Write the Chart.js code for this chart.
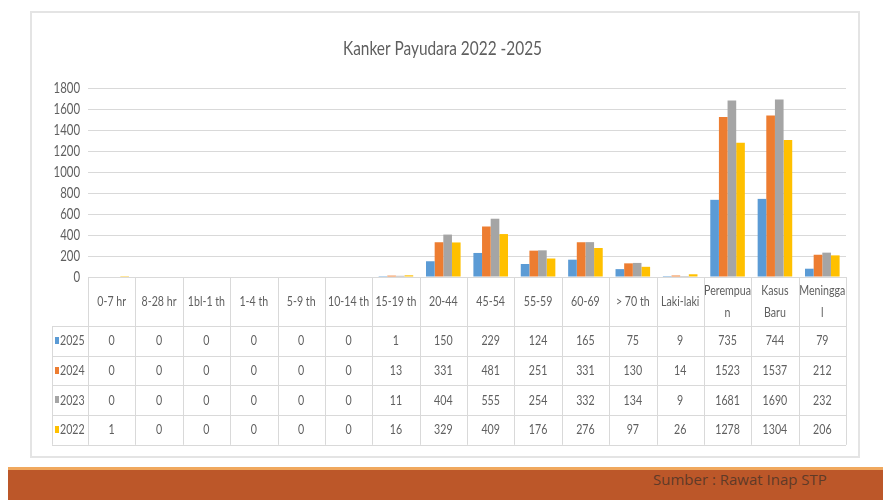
<!DOCTYPE html>
<html>
<head>
<meta charset="utf-8">
<script src="https://cdn.jsdelivr.net/npm/chart.js@4.4.1/dist/chart.umd.min.js"></script>
<style>
  html, body { margin: 0; padding: 0; background: #fff; }
  #wrap { position: relative; width: 883px; height: 500px; overflow: hidden; }
  #frame { position: absolute; left: 30px; top: 11px; width: 826px; height: 443px; border: 2px solid #e4e4e4; }
  #stripe { position: absolute; left: 8px; top: 467px; width: 875px; height: 3px; background: #F0A85E; }
  #band { position: absolute; left: 8px; top: 470px; width: 875px; height: 30px; background: #BC5729; }
  #src { position: absolute; left: 653px; top: 469px; font: 15px 'Open Sans', sans-serif; color: #5f3a28; }
  canvas { position: absolute; left: 0; top: 0; }
</style>
</head>
<body>
<div id="wrap">
  <div id="frame"></div>
  <div id="stripe"></div>
  <div id="band"></div>
  <div id="src">Sumber : Rawat Inap STP</div>
  <canvas id="c" width="883" height="500"></canvas>
</div>
<script>
const chartTitle = "Kanker Payudara 2022 -2025";
const categories = [["0-7 hr"], ["8-28 hr"], ["1bl-1 th"], ["1-4 th"], ["5-9 th"], ["10-14 th"], ["15-19 th"], ["20-44"], ["45-54"], ["55-59"], ["60-69"], ["> 70 th"], ["Laki-laki"], ["Perempua", "n"], ["Kasus", "Baru"], ["Meningga", "l"]];
const seriesNames = ["2025", "2024", "2023", "2022"];
const values2025 = [0, 0, 0, 0, 0, 0, 1, 150, 229, 124, 165, 75, 9, 735, 744, 79];
const values2024 = [0, 0, 0, 0, 0, 0, 13, 331, 481, 251, 331, 130, 14, 1523, 1537, 212];
const values2023 = [0, 0, 0, 0, 0, 0, 11, 404, 555, 254, 332, 134, 9, 1681, 1690, 232];
const values2022 = [1, 0, 0, 0, 0, 0, 16, 329, 409, 176, 276, 97, 26, 1278, 1304, 206];
const seriesColors = ["#5B9BD5", "#ED7D31", "#A5A5A5", "#FFC000"];
const yTicks = [0, 200, 400, 600, 800, 1000, 1200, 1400, 1600, 1800];

const FONT = "Lato, 'Open Sans', sans-serif";
const SX = 0.76;
const TXT = "#5f5f5f";
const allValues = [values2025, values2024, values2023, values2022];

function condText(ctx, text, x, y, align, sx) {
  ctx.save();
  ctx.translate(x, y);
  ctx.scale(sx, 1);
  ctx.textAlign = align;
  ctx.fillText(text, 0, 0);
  ctx.restore();
}

const tablePlugin = {
  id: 'dataTable',
  afterDraw(chart) {
    const ctx = chart.ctx;
    const xs = chart.scales.x;
    const ys = chart.scales.y;
    const n = categories.length;
    const left = xs.left, right = xs.right;
    const colW = (right - left) / n;
    const top = chart.chartArea.bottom;
    const headerBottom = top + 49;
    const rowH = 29.7;
    const legendLeft = 52;
    const bottom = headerBottom + rowH * 4;
    ctx.save();
    ctx.fillStyle = TXT;
    ctx.textBaseline = "middle";
    ctx.font = "20px " + FONT;
    const tw = ctx.measureText(chartTitle).width;
    condText(ctx, chartTitle, chart.width / 2 + 1, 49, "center", 199 / tw);
    ctx.font = "15px " + FONT;
    yTicks.forEach(v => condText(ctx, String(v), ys.left + 80, ys.getPixelForValue(v), "right", SX));

    ctx.strokeStyle = "#d9d9d9";
    ctx.lineWidth = 1;
    ctx.beginPath();
    for (let i = 0; i <= n; i++) {
      const x = Math.round(left + i * colW) + 0.5;
      ctx.moveTo(x, top); ctx.lineTo(x, bottom);
    }
    ctx.moveTo(legendLeft + 0.5, headerBottom); ctx.lineTo(legendLeft + 0.5, bottom);
    for (let r = 0; r <= 4; r++) {
      const y = Math.round(headerBottom + r * rowH) + 0.5;
      ctx.moveTo(legendLeft, y); ctx.lineTo(right, y);
    }
    ctx.stroke();

    ctx.fillStyle = TXT;
    ctx.font = "14px " + FONT;
    for (let i = 0; i < n; i++) {
      const cx = xs.getPixelForValue(i);
      const lines = categories[i];
      const lh = 22;
      const y0 = (top + headerBottom) / 2 - (lines.length - 1) * lh / 2;
      lines.forEach((t, k) => condText(ctx, t, cx, y0 + k * lh, "center", SX));
    }
    for (let r = 0; r < 4; r++) {
      const cy = headerBottom + r * rowH + rowH / 2;
      const vals = allValues[r];
      ctx.fillStyle = TXT;
      for (let i = 0; i < n; i++) {
        condText(ctx, String(vals[i]), xs.getPixelForValue(i), cy, "center", SX);
      }
      condText(ctx, seriesNames[r], 60, cy, "left", SX);
      ctx.fillStyle = seriesColors[r];
      ctx.fillRect(55, Math.round(cy - 4), 4, 7);
    }
    ctx.restore();
  }
};

new Chart(document.getElementById('c'), {
  type: 'bar',
  data: {
    labels: categories.map(c => c.join("")),
    datasets: seriesNames.map((name, i) => ({
      label: name,
      data: allValues[i],
      backgroundColor: seriesColors[i],
      borderWidth: 0,
      categoryPercentage: 0.73,
      barPercentage: 1.0
    }))
  },
  options: {
    responsive: false,
    animation: false,
    layout: { padding: { top: 88, right: 37, bottom: 223, left: 0 } },
    plugins: {
      legend: { display: false },
      tooltip: { enabled: false },
      title: { display: false }
    },
    scales: {
      x: {
        ticks: { display: false },
        grid: { display: false },
        border: { display: false },
        afterFit(s) { s.height = 0; }
      },
      y: {
        min: 0, max: 1800,
        afterBuildTicks(s) { s.ticks = yTicks.map(v => ({ value: v })); },
        ticks: { display: false },
        grid: { color: "#d9d9d9", drawTicks: false },
        border: { display: false },
        afterFit(s) { s.width = 88; }
      }
    }
  },
  plugins: [tablePlugin]
});
</script>
</body>
</html>
